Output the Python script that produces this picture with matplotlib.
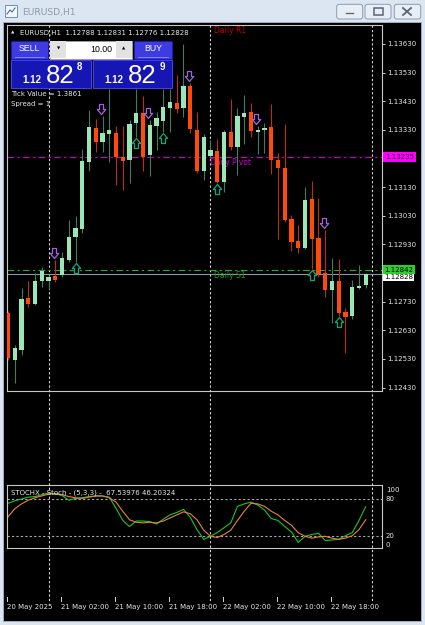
import matplotlib
matplotlib.use("Agg")
import matplotlib.pyplot as plt
from matplotlib.patches import Rectangle, FancyBboxPatch
from matplotlib.path import Path
from matplotlib.transforms import blended_transform_factory

W, H = 425, 625

# EURUSD H1 bars, 20 May 2025 18:00 .. 22 May 2025 23:00
opens = [1.12691, 1.12527, 1.12562, 1.12743, 1.12722, 1.12802, 1.12802, 1.12820, 1.12823, 1.12876,
         1.12956, 1.12984, 1.13218, 1.13337, 1.13288, 1.13316, 1.13319, 1.13235, 1.13225, 1.13354,
         1.13389, 1.13242, 1.13344, 1.13361, 1.13407, 1.13424, 1.13407, 1.13483, 1.13330, 1.13187,
         1.13239, 1.13256, 1.13148, 1.13323, 1.13270, 1.13375, 1.13393, 1.13323, 1.13330, 1.13340,
         1.13225, 1.13197, 1.13019, 1.12942, 1.12918, 1.13089, 1.12953, 1.12830, 1.12771, 1.12802,
         1.12694, 1.12680, 1.12778, 1.12788]
highs = [1.12698, 1.12579, 1.12778, 1.12802, 1.12830, 1.12851, 1.12823, 1.12876, 1.12904, 1.13016,
         1.13029, 1.13263, 1.13400, 1.13368, 1.13379, 1.13473, 1.13344, 1.13344, 1.13365, 1.13473,
         1.13448, 1.13365, 1.13393, 1.13473, 1.13473, 1.13522, 1.13630, 1.13494, 1.13393, 1.13316,
         1.13295, 1.13298, 1.13330, 1.13438, 1.13407, 1.13452, 1.13424, 1.13344, 1.13354, 1.13420,
         1.13249, 1.13351, 1.13033, 1.12998, 1.13131, 1.13152, 1.13092, 1.12981, 1.12883, 1.12879,
         1.12708, 1.12806, 1.12858, 1.12831]
lows = [1.12527, 1.12446, 1.12544, 1.12712, 1.12719, 1.12781, 1.12771, 1.12799, 1.12816, 1.12869,
        1.12869, 1.12970, 1.13187, 1.13253, 1.13253, 1.13218, 1.13138, 1.13120, 1.13145, 1.13305,
        1.13187, 1.13169, 1.13260, 1.13323, 1.13323, 1.13389, 1.13375, 1.13319, 1.13180, 1.13155,
        1.13232, 1.13145, 1.13113, 1.13260, 1.13173, 1.13281, 1.13305, 1.13246, 1.13249, 1.13176,
        1.12949, 1.13009, 1.12907, 1.12900, 1.12915, 1.12844, 1.12816, 1.12747, 1.12656, 1.12680,
        1.12551, 1.12670, 1.12774, 1.12776]
closes = [1.12534, 1.12569, 1.12740, 1.12722, 1.12802, 1.12837, 1.12816, 1.12806, 1.12883, 1.12956,
          1.12988, 1.13221, 1.13340, 1.13288, 1.13319, 1.13330, 1.13235, 1.13221, 1.13351, 1.13389,
          1.13235, 1.13347, 1.13372, 1.13410, 1.13427, 1.13403, 1.13483, 1.13333, 1.13187, 1.13305,
          1.13260, 1.13148, 1.13323, 1.13270, 1.13379, 1.13389, 1.13326, 1.13330, 1.13337, 1.13225,
          1.13197, 1.13016, 1.12939, 1.12918, 1.13085, 1.12949, 1.12827, 1.12771, 1.12802, 1.12691,
          1.12677, 1.12781, 1.12785, 1.12828]

# stochastic (5,3,3): main and signal
stoch_k = [73, 77, 80, 83, 84, 87, 90, 88, 86, 78, 81, 82, 84, 85, 85, 83, 65, 45, 35, 44,
           44, 43, 39, 47, 54, 58, 63, 50, 30, 14, 19, 25, 33, 41, 68, 72, 75, 70, 62, 48,
           45, 35, 26, 9, 19, 22, 24, 12, 13, 14, 20, 25, 45, 67.53976]
stoch_d = [51, 64, 72, 78, 82, 85, 88, 89, 87, 84, 82, 81, 83, 85, 85, 82, 75, 60, 46, 42,
           41, 42, 41, 44, 49, 54, 59, 56, 46, 29, 19, 17, 22, 29, 45, 60, 73, 72, 68, 60,
           54, 45, 37, 25, 19, 16, 18, 19, 16, 14, 16, 20, 30, 46.20324]

# arrows drawn by the indicator
arrow_down_bars = [7, 14, 21, 27, 37, 47]
arrow_up_bars = [10, 19, 23, 31, 45, 49]

daily_r1 = 1.13705
daily_pivot = 1.13235
daily_s1 = 1.12842
bid = 1.12828

price_ticks = [1.12430, 1.12530, 1.12630, 1.12730, 1.12830, 1.12930, 1.13030,
               1.13130, 1.13230, 1.13330, 1.13430, 1.13530, 1.13630]
hidden_ticks = [1.12830, 1.13230]  # covered by the level labels
time_ticks = [0, 8, 16, 24, 32, 40, 48]
time_labels = ["20 May 2025", "21 May 02:00", "21 May 10:00", "21 May 18:00",
               "22 May 02:00", "22 May 10:00", "22 May 18:00"]
day_breaks = [6, 30, 54]
stoch_levels = [20, 80]
stoch_labels = [(100, "100", "top"), (80, "80", "center"), (20, "20", "center"), (0, "0", "bottom")]

BULL, BEAR = "#9AE6B6", "#FF4A0C"
BULL_WICK, BEAR_WICK = "#3E7D60", "#B8320E"
TXT = "#E6E6E6"
FONT = "DejaVu Sans"

# hollow block arrow marker
up_verts = [(-0.2, -0.5), (0.2, -0.5), (0.2, 0.0), (0.42, 0.0), (0.0, 0.5),
            (-0.42, 0.0), (-0.2, 0.0), (-0.2, -0.5)]
up_arrow = Path(up_verts, closed=True)
down_arrow = Path([(x, -y) for x, y in up_verts], closed=True)

fig = plt.figure(figsize=(W / 100, H / 100), dpi=100)
fig.patch.set_facecolor("#DCE6F2")

# background layer in pixel coordinates
bg = fig.add_axes([0, 0, 1, 1], zorder=0)
bg.set_xlim(0, W)
bg.set_ylim(H, 0)
bg.axis("off")
bg.add_patch(Rectangle((3.5, 22), 417.5, 599, fc="black", ec="#9DADC0", lw=0.7))

# window title bar
bg.add_patch(Rectangle((5, 5), 12, 12, fc="#F4F8FC", ec="#6F8DBA", lw=0.7))
bg.plot([7, 10, 12, 15], [14, 10, 12, 8], color="#3D6FB5", lw=0.8)
bg.text(22, 13, "EURUSD,H1", color="#8A98A8", fontsize=6.6, family=FONT, va="center")
for x0, w in [(336.7, 26), (365, 26), (394.3, 26.4)]:
    bg.add_patch(FancyBboxPatch((x0, 4.3), w, 14.7, boxstyle="round,pad=0,rounding_size=2.5",
                                fc="#E8EEF6", ec="#8D9BB0", lw=0.7))
bg.add_patch(Rectangle((345, 11.5), 9, 2.5, fc="#5A6474", ec="white", lw=0.4))
bg.add_patch(Rectangle((374, 8), 9, 6.5, fc="none", ec="#5A6474", lw=1.1))
bg.plot([403, 411], [8, 15], color="#5A6474", lw=1.3)
bg.plot([403, 411], [15, 8], color="#5A6474", lw=1.3)

# main price window
ax = fig.add_axes([7 / W, 1 - 391 / H, 375 / W, 366 / H], zorder=2)
ax.set_facecolor("none")
ax.set_xlim(-0.15, 55.41)
ax.set_ylim(1.12418, 1.13696)
for s in ax.spines.values():
    s.set_color("#C8C8C8")
    s.set_linewidth(0.8)
ax.set_xticks([])
ax.yaxis.tick_right()
ax.set_yticks(price_ticks)
ax.set_yticklabels(["" if p in hidden_ticks else f"{p:.5f}" for p in price_ticks], family=FONT)
ax.tick_params(axis="y", colors="#D0D0D0", labelcolor=TXT, labelsize=5, length=2, width=0.7, pad=1.5)

trx = blended_transform_factory(ax.transData, bg.transData)
for d in day_breaks:
    bg.plot([d, d], [25, 603], transform=trx, color="#D8D8D8", lw=0.8, ls=(0, (2, 2)))

ax.axhline(daily_pivot, color="#C800C8", lw=0.8, ls=(0, (6, 3, 2, 3)), zorder=2)
ax.axhline(daily_s1, color="#22B022", lw=0.8, ls=(0, (6, 3, 2, 3)), zorder=2)
ax.axhline(bid, color="#8796A8", lw=0.8, zorder=2)
ax.text(day_breaks[1] + 0.55, daily_r1 - 0.00014, "Daily R1", color="#C80000", fontsize=5.5,
        family=FONT, va="top")
ax.text(day_breaks[1], daily_pivot - 0.00004, "Daily Pivot", color="#D000D0", fontsize=5.5,
        family=FONT, va="top")
ax.text(day_breaks[1] + 0.55, daily_s1 - 0.00004, "Daily S1", color="#18A018", fontsize=5.5,
        family=FONT, va="top")

for i, (o, h, l, c) in enumerate(zip(opens, highs, lows, closes)):
    up = c >= o
    ax.vlines(i, l, h, color=BULL_WICK if up else BEAR_WICK, lw=0.8, zorder=3)
    ax.add_patch(Rectangle((i - 0.31, min(o, c)), 0.62, max(abs(c - o), 0.00006),
                           fc=BULL if up else BEAR, ec="none", zorder=4))

for i in arrow_down_bars:
    ax.plot(i - 0.2, highs[i] + 0.00024, marker=down_arrow, ms=7.2, mfc="black",
            mec="#A064E0", mew=0.9, zorder=5)
for i in arrow_up_bars:
    ax.plot(i, lows[i] - 0.00021, marker=up_arrow, ms=7.2, mfc="black",
            mec="#10A87A", mew=0.9, zorder=5)

# stochastic window
sax = fig.add_axes([7 / W, 1 - 548.3 / H, 375 / W, 63.3 / H], zorder=2)
sax.set_facecolor("none")
sax.set_xlim(-0.15, 55.41)
sax.set_ylim(-0.6, 102.9)
for s in sax.spines.values():
    s.set_color("#C8C8C8")
    s.set_linewidth(0.8)
sax.set_xticks([])
sax.set_yticks([])
for lv in stoch_levels:
    sax.axhline(lv, color="#A8A8A8", lw=0.8, ls=(0, (2, 2)))
sax.plot(range(len(stoch_k)), stoch_k, color="#1FC41F", lw=0.8)
sax.plot(range(len(stoch_d)), stoch_d, color="#E8823C", lw=0.8)

# foreground texts and panels in pixel coordinates
fg = fig.add_axes([0, 0, 1, 1], zorder=10)
fg.set_xlim(0, W)
fg.set_ylim(H, 0)
fg.axis("off")

fg.text(10.5, 33, "\u25b2", color=TXT, fontsize=3.2, family=FONT, va="center")
fg.text(20, 33, f"EURUSD,H1  {opens[-1]:.5f} {highs[-1]:.5f} {lows[-1]:.5f} {closes[-1]:.5f}",
        color=TXT, fontsize=5, family=FONT, va="center")
fg.text(11, 94, "Tick Value = 1.3861", color=TXT, fontsize=5, family=FONT, va="center")
fg.text(11, 104, "Spread = 1", color=TXT, fontsize=5, family=FONT, va="center")

# one click trading panel
for x0, w, lab in [(10.7, 37.6, "SELL"), (134.3, 38, "BUY")]:
    fg.add_patch(Rectangle((x0, 40.7), w, 18.3, fc="#3C3CE2", ec="#1A1AA8", lw=0.7))
    fg.plot([x0 + 4, x0 + w - 4], [56.6, 56.6], color="#8C8CFF", lw=0.6)
    fg.text(x0 + w / 2, 48.8, lab, color="white", fontsize=6.3, family="Liberation Sans",
            ha="center", va="center")
fg.add_patch(Rectangle((50, 40.7), 82.3, 18, fc="white", ec="#9A9A9A", lw=0.7))
fg.add_patch(Rectangle((50.5, 41.2), 16, 17, fc="#E2E2E2", ec="none"))
fg.add_patch(Rectangle((115.8, 41.2), 16, 17, fc="#E2E2E2", ec="none"))
fg.text(58.5, 49, "\u25bc", color="black", fontsize=3, family=FONT, ha="center", va="center")
fg.text(124, 49, "\u25b2", color="black", fontsize=3, family=FONT, ha="center", va="center")
fg.text(112, 49, "10.00", color="black", fontsize=6.3, family="Liberation Sans", ha="right", va="center")

bid_str, ask_str = "1.12828", "1.12829"
for x0, w, q in [(10.7, 80, bid_str), (92.7, 79.6, ask_str)]:
    fg.add_patch(Rectangle((x0, 60), w, 27.7, fc="#1616B4", ec="#4444F2", lw=0.7))
    fg.text(x0 + 12, 83, q[:4], color="white", fontsize=7, weight="bold",
            family="Liberation Sans", ha="left", va="baseline")
    fg.text(x0 + 35.5, 83, q[4:6], color="white", fontsize=18.5,
            family="Liberation Sans", ha="left", va="baseline")
    fg.text(x0 + 66.5, 70, q[6], color="white", fontsize=7, weight="bold",
            family="Liberation Sans", ha="left", va="baseline")

# price labels on the right axis
try_ = blended_transform_factory(fg.transData, ax.transData)
bid_box = fg.text(384.3, bid, f"{bid:.5f}", transform=try_, color="black", fontsize=5, family=FONT,
                  va="top", bbox=dict(boxstyle="square,pad=0.15", fc="white", ec="none"), zorder=3)
clip = Rectangle((383, 273.6), 36, 8, transform=fg.transData)
bid_box.set_clip_path(clip)
fg.text(384.3, daily_s1, f"{daily_s1:.5f}", transform=try_, color="black", fontsize=5, family=FONT,
        va="center", bbox=dict(boxstyle="square,pad=0.2", fc="#2ECC2E", ec="none"), zorder=4)
fg.text(385, daily_pivot, f"{daily_pivot:.5f}", transform=try_, color="#202020", fontsize=5,
        family=FONT, va="center", bbox=dict(boxstyle="square,pad=0.3", fc="#FF00FF", ec="none"), zorder=4)

# stochastic header and scale
fg.text(11, 493, "STOCHX - Stoch - (5,3,3) -  67.53976 46.20324", color=TXT, fontsize=5,
        family=FONT, va="center")
trs = blended_transform_factory(fg.transData, sax.transData)
for v, lab, va in stoch_labels:
    fg.text(386, v, lab, transform=trs, color=TXT, fontsize=5, family=FONT, va=va)

# time axis
trt = blended_transform_factory(ax.transData, fg.transData)
for t, lab in zip(time_ticks, time_labels):
    fg.plot([t - 0.1, t - 0.1], [597, 601], transform=trt, color="#D8D8D8", lw=0.7)
    fg.text(t - 0.15, 607.5, lab, transform=trt, color=TXT, fontsize=5, family=FONT,
            ha="left", va="center")

fig.savefig("out.png", dpi=100, facecolor=fig.get_facecolor())
